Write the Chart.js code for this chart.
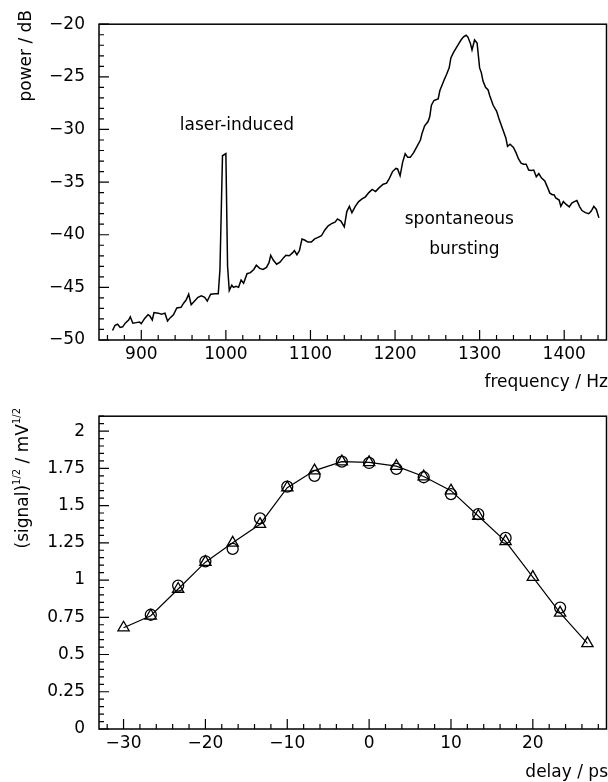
<!DOCTYPE html>
<html lang="en">
<head>
  <meta charset="UTF-8" />
  <title>Spectrum and delay scan</title>
  <script src="https://cdn.jsdelivr.net/npm/chart.js@4.4.0/dist/chart.umd.min.js"></script>
  <style>
    * {
      margin: 0;
      padding: 0;
    }

    body {
      background: #fff;
      width: 608px;
      height: 782px;
      overflow: hidden;
    }

    .box {
      position: absolute;
      left: 0;
      width: 608px;
    }

    #topBox {
      top: 0;
      height: 392px;
    }

    #botBox {
      top: 392px;
      height: 390px;
    }
  </style>
</head>
<body>
  <div class="box" id="topBox"><canvas id="specChart" width="608" height="392"></canvas></div>
  <div class="box" id="botBox"><canvas id="delayChart" width="608" height="390"></canvas></div>
  <script>
    // ---- top panel: power spectrum ----
    const freq = [
      866, 869, 872, 875, 878, 881, 885, 887, 890, 894, 898, 900, 904, 908, 910, 913, 915, 920, 924, 928,
      931, 934, 938, 942, 947, 950, 953, 956, 959, 963, 967, 971, 975, 978, 982, 987, 991, 993, 996, 1000,
      1002, 1004, 1007, 1009, 1012, 1015, 1018, 1021, 1025, 1029, 1033, 1036, 1040, 1044, 1048, 1051, 1053, 1056, 1060, 1064,
      1068, 1071, 1075, 1079, 1081, 1084, 1087, 1090, 1093, 1097, 1101, 1105, 1109, 1113, 1117, 1121, 1125, 1129, 1132, 1136,
      1140, 1143, 1146, 1149, 1153, 1157, 1161, 1165, 1169, 1173, 1177, 1181, 1186, 1190, 1193, 1197, 1201, 1203, 1206, 1209,
      1212, 1215, 1218, 1222, 1226, 1230, 1232, 1235, 1239, 1241, 1243, 1246, 1249, 1251, 1253, 1256, 1258, 1261, 1264, 1266,
      1269, 1272, 1275, 1278, 1281, 1284, 1286, 1289, 1291, 1294, 1297, 1300, 1302, 1304, 1307, 1310, 1312, 1316, 1320, 1323,
      1327, 1331, 1333, 1336, 1340, 1343, 1346, 1349, 1352, 1355, 1358, 1361, 1364, 1367, 1370, 1373, 1377, 1380, 1383, 1386,
      1388, 1390, 1394, 1396, 1399, 1402, 1406, 1409, 1412, 1415, 1418, 1421, 1425, 1429, 1432, 1435, 1438, 1441
    ];
    const power = [
      -49.1, -48.6, -48.5, -48.8, -48.75, -48.4, -48.1, -47.8, -48.4, -48.35, -48.3, -48.45, -47.95, -47.6, -47.7, -48.1, -47.4, -47.45, -47.55, -47.45,
      -48.2, -47.9, -47.6, -46.95, -46.9, -46.5, -46.2, -45.65, -46.65, -46.3, -45.95, -45.8, -45.95, -46.3, -45.65, -45.6, -45.6, -43.3, -32.5, -32.3,
      -43.0, -45.3, -44.8, -45.0, -44.9, -45.0, -44.3, -44.6, -43.7, -43.6, -43.3, -42.9, -43.2, -43.3, -43.1, -42.65, -41.95, -42.4, -42.8, -42.6,
      -42.2, -41.95, -42.0, -41.7, -41.5, -41.9, -41.5, -40.4, -40.5, -40.7, -40.7, -40.4, -40.25, -40.1, -39.55, -39.15, -38.95, -38.8, -38.5, -38.7,
      -39.25, -37.8, -37.3, -37.9, -37.3, -36.85, -36.6, -36.4, -36.0, -35.7, -35.9, -35.55, -35.2, -35.1, -34.7, -34.0, -33.7, -33.75, -34.4, -33.1,
      -32.3, -32.65, -32.65, -32.2, -31.6, -31.0, -30.35, -29.65, -29.25, -28.8, -27.7, -27.25, -27.15, -27.1, -26.3, -25.7, -25.3, -24.75, -24.15, -23.2,
      -22.7, -22.3, -21.9, -21.5, -21.2, -21.05, -21.2, -21.8, -22.45, -21.5, -21.8, -24.15, -24.6, -25.4, -26.0, -26.25, -26.8, -27.7, -28.25, -29.0,
      -29.9, -30.8, -31.6, -31.4, -31.7, -32.2, -32.8, -33.2, -33.3, -33.3, -33.85, -33.9, -33.85, -34.5, -34.2, -34.6, -34.9, -35.45, -36.05, -36.2,
      -36.2, -36.5, -36.7, -37.3, -36.85, -37.1, -37.35, -37.0, -36.85, -36.75, -37.3, -37.7, -37.9, -38.0, -37.75, -37.3, -37.6, -38.4
    ];
    const freqTicks = [900, 1000, 1100, 1200, 1300, 1400];
    const powerTicks = [-50, -45, -40, -35, -30, -25, -20];
    const specNotes = [
      { text: "laser-induced", x: 1013, y: -29.65 },
      { text: "spontaneous", x: 1276, y: -38.55 },
      { text: "bursting", x: 1282, y: -41.45 }
    ];

    // ---- bottom panel: delay scan ----
    const delayTri = [-30, -26.67, -23.33, -20, -16.67, -13.33, -10, -6.67, -3.33, 0, 3.33, 6.67, 10, 13.33, 16.67, 20, 23.33, 26.67];
    const signalTri = [0.68, 0.76, 0.94, 1.12, 1.25, 1.375, 1.62, 1.735, 1.795, 1.79, 1.765, 1.695, 1.6, 1.43, 1.26, 1.02, 0.78, 0.575];
    const delayCirc = [-26.67, -23.33, -20, -16.67, -13.33, -10, -6.67, -3.33, 0, 3.33, 6.67, 10, 13.33, 16.67, 23.33];
    const signalCirc = [0.767, 0.963, 1.126, 1.209, 1.414, 1.627, 1.70, 1.795, 1.786, 1.747, 1.69, 1.577, 1.442, 1.283, 0.815];
    const delayTicks = [-30, -20, -10, 0, 10, 20];
    const signalTicks = [0, 0.25, 0.5, 0.75, 1, 1.25, 1.5, 1.75, 2];

    const FONT = "DejaVu Sans";
    const SIZE = 17;
    Chart.defaults.font.family = FONT;
    Chart.defaults.font.size = SIZE;
    Chart.defaults.color = "#000";

    const toPoints = (xs, ys) => xs.map((v, i) => ({ x: v, y: ys[i] }));
    const minusSign = v => String(v).replace("-", "\u2212");
    const fixedTicks = list => s => { s.ticks = list.map(v => ({ value: v })); };

    // frame, inward ticks, titles and notes
    const decor = {
      id: "decor",
      afterDraw(chart, args, o) {
        const { ctx, chartArea: a, scales: { x, y } } = chart;
        ctx.save();
        ctx.strokeStyle = "#000";
        ctx.lineWidth = 1.2;
        ctx.beginPath();
        for (let i = Math.ceil(x.min / o.xMinor); i * o.xMinor <= x.max; i++) {
          const v = i * o.xMinor;
          const px = x.getPixelForValue(v);
          const major = Math.abs(v / o.xMajor - Math.round(v / o.xMajor)) < 1e-6;
          ctx.moveTo(px, a.bottom);
          ctx.lineTo(px, a.bottom - (major ? 10 : 5));
        }
        for (let i = Math.ceil(y.min / o.yMinor - 1e-6); i * o.yMinor <= y.max + 1e-9; i++) {
          const v = i * o.yMinor;
          const py = y.getPixelForValue(v);
          const major = Math.abs(v / o.yMajor - Math.round(v / o.yMajor)) < 1e-6;
          ctx.moveTo(a.left, py);
          ctx.lineTo(a.left + (major ? 10 : 5), py);
        }
        ctx.stroke();
        ctx.lineWidth = 1.5;
        ctx.strokeRect(a.left, a.top, a.right - a.left, a.bottom - a.top);

        ctx.fillStyle = "#000";
        ctx.font = SIZE + "px " + FONT;
        ctx.textAlign = "center";
        ctx.textBaseline = "middle";
        (o.notes || []).forEach(n => {
          ctx.fillText(n.text, x.getPixelForValue(n.x), y.getPixelForValue(n.y));
        });

        // x title, right aligned under the axis
        ctx.textAlign = "right";
        ctx.textBaseline = "alphabetic";
        ctx.fillText(o.xTitle, chart.width, o.xTitleY);

        // y title, rotated, anchored at its top end
        const parts = o.yTitle;
        const fontOf = p => (p[1] ? "10px " : SIZE + "px ") + FONT;
        let total = 0;
        parts.forEach(p => {
          ctx.font = fontOf(p);
          total += ctx.measureText(p[0]).width;
        });
        ctx.translate(o.yTitleX, o.yTitleTop + total);
        ctx.rotate(-Math.PI / 2);
        ctx.textAlign = "left";
        let cx = 0;
        parts.forEach(p => {
          ctx.font = fontOf(p);
          ctx.fillText(p[0], cx, p[1] ? -8 : 0);
          cx += ctx.measureText(p[0]).width;
        });
        ctx.restore();
      }
    };

    function baseOptions(xs, ys, plotBottom, canvasH, top) {
      return {
        responsive: false,
        animation: false,
        events: [],
        layout: { autoPadding: false, padding: { top: top, right: 1.5, left: 0, bottom: 0 } },
        plugins: { legend: { display: false }, tooltip: { enabled: false } },
        scales: {
          x: Object.assign({
            type: "linear",
            grid: { display: false, drawTicks: false },
            border: { display: false },
            afterFit: s => { s.height = canvasH - plotBottom; }
          }, xs),
          y: Object.assign({
            type: "linear",
            grid: { display: false, drawTicks: false },
            border: { display: false },
            afterFit: s => { s.width = 99; }
          }, ys)
        }
      };
    }

    const specOptions = baseOptions(
      { min: 850, max: 1450, afterBuildTicks: fixedTicks(freqTicks), ticks: { padding: 4, maxRotation: 0, callback: minusSign } },
      { min: -50, max: -20, afterBuildTicks: fixedTicks(powerTicks), ticks: { padding: 14, callback: minusSign } },
      340, 392, 17
    );
    specOptions.plugins.decor = {
      xMinor: 20, xMajor: 100, yMinor: 1, yMajor: 5,
      notes: specNotes,
      xTitle: "frequency / Hz", xTitleY: 386.5,
      yTitle: [["power / dB", false]], yTitleX: 31, yTitleTop: 10
    };

    new Chart(document.getElementById("specChart"), {
      type: "scatter",
      data: {
        datasets: [{
          data: toPoints(freq, power),
          showLine: true,
          borderColor: "#000",
          borderWidth: 1.5,
          pointRadius: 0,
          tension: 0
        }]
      },
      options: specOptions,
      plugins: [decor]
    });

    const delayOptions = baseOptions(
      { min: -33, max: 29, afterBuildTicks: fixedTicks(delayTicks), ticks: { padding: 4, maxRotation: 0, callback: minusSign } },
      { min: 0, max: 2.1, afterBuildTicks: fixedTicks(signalTicks), ticks: { padding: 14, callback: v => String(v) } },
      337, 390, 15
    );
    delayOptions.plugins.decor = {
      xMinor: 2, xMajor: 10, yMinor: 0.05, yMajor: 0.25,
      xTitle: "delay / ps", xTitleY: 385,
      yTitle: [["(signal)", false], ["1/2", true], [" / mV", false], ["1/2", true]], yTitleX: 28, yTitleTop: 16
    };

    new Chart(document.getElementById("delayChart"), {
      type: "scatter",
      data: {
        datasets: [
          {
            data: toPoints(delayTri, signalTri),
            showLine: true,
            borderColor: "#000",
            borderWidth: 1.2,
            pointStyle: "triangle",
            pointRadius: 6.5,
            pointBorderWidth: 1.3,
            pointBorderColor: "#000",
            pointBackgroundColor: "rgba(0,0,0,0)"
          },
          {
            data: toPoints(delayCirc, signalCirc),
            showLine: false,
            pointStyle: "circle",
            pointRadius: 5.5,
            pointBorderWidth: 1.3,
            pointBorderColor: "#000",
            pointBackgroundColor: "rgba(0,0,0,0)"
          }
        ]
      },
      options: delayOptions,
      plugins: [decor]
    });
  </script>
</body>
</html>
